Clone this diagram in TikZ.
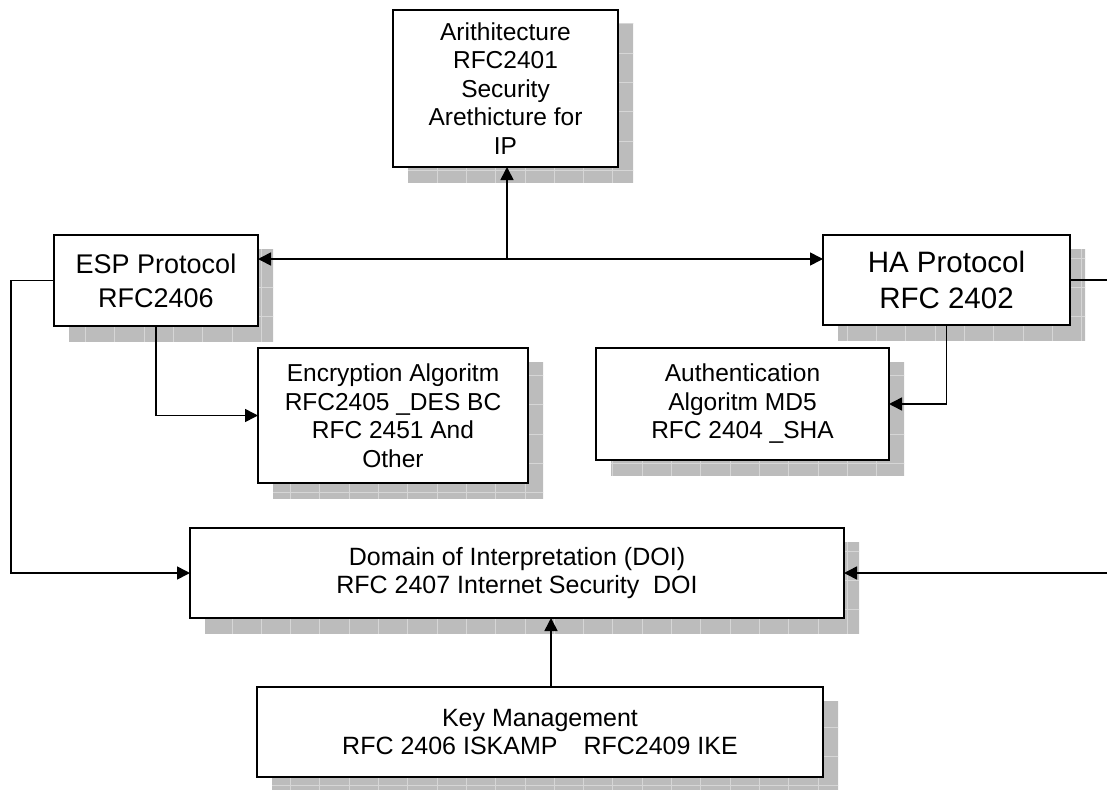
\documentclass[tikz,border=0pt]{standalone}
\usepackage{fontspec}
\setmainfont{Liberation Sans}
\usetikzlibrary{arrows.meta,calc}
\pgfdeclarelayer{bg}
\pgfsetlayers{bg,main}
\definecolor{shadowgray}{RGB}{188,188,188}
\definecolor{gridgray}{RGB}{214,214,214}
\newcommand{\gridshadow}[1]{%
  \begin{scope}
    \clip ($(#1.north west)+(15,14)$) rectangle ($(#1.south east)+(15,15)$);
    \fill[shadowgray] (-20,-20) rectangle (1200,900);
    \draw[draw=gridgray, line width=0.8pt, shift={(26.8,23.7)}, step=29.3pt] (-60,-60) grid (1200,900);
  \end{scope}}
\begin{document}
\begin{tikzpicture}[x=1pt,y=-1pt,
  box/.style={draw=black, fill=white, line width=1.6pt, inner sep=0pt, outer sep=0pt,
    align=center, font=\fontsize{24.5}{28.5}\selectfont},
  conn/.style={line width=1.6pt},
  arr/.style={conn, -{Triangle[length=13pt,width=13pt]}},
  arrtwo/.style={conn, {Triangle[length=13pt,width=13pt]}-{Triangle[length=13pt,width=13pt]}}
]
\useasboundingbox (0,0) rectangle (1107,789);
\clip (0,0) rectangle (1107,789);

\node[box, minimum width=225pt, minimum height=157pt] (top) at (505.5,88.5)
  {Arithitecture\\RFC2401\\Security\\Arethicture for\\IP};
\node[box, minimum width=204pt, minimum height=91pt, font=\fontsize{27}{34}\selectfont] (esp) at (156,280.5)
  {ESP Protocol\\RFC2406};
\node[box, minimum width=247pt, minimum height=90pt, font=\fontsize{29.5}{36.7}\selectfont] (ha) at (946.5,280)
  {HA Protocol\\RFC 2402};
\node[box, minimum width=270pt, minimum height=135pt] (enc) at (393,415.5)
  {Encryption Algoritm\\RFC2405 \_DES BC\\RFC 2451 And\\Other};
\node[box, minimum width=293pt, minimum height=112pt] (auth) at (742.5,404)
  {Authentication\\Algoritm MD5\\RFC 2404 \_SHA};
\node[box, minimum width=654pt, minimum height=90pt, font=\fontsize{25}{28}\selectfont] (doi) at (517,573)
  {Domain of Interpretation (DOI)\\RFC 2407 Internet Security\ \ DOI};
\node[box, minimum width=566pt, minimum height=90pt, font=\fontsize{25}{28}\selectfont] (km) at (540,732)
  {Key Management\\RFC 2406 ISKAMP\hspace{26pt}RFC2409 IKE};

\begin{pgfonlayer}{bg}
  \gridshadow{top}
  \gridshadow{esp}
  \gridshadow{ha}
  \gridshadow{enc}
  \gridshadow{auth}
  \gridshadow{doi}
  \gridshadow{km}
\end{pgfonlayer}

\coordinate (jn) at (507,259);
\coordinate (lturn) at (11,573);
\coordinate (rturn) at (1125,280);

\draw[arrtwo] (jn -| esp.east) -- (jn -| ha.west);
\draw[arr] (jn) -- (jn |- top.south);
\draw[arr] (esp.west) -| (lturn) -- (doi.west);
\draw[arr] (esp.south) |- (enc.west);
\draw[arr] (ha.south) |- (auth.east);
\draw[arr] (ha.east) -- (rturn) |- (doi.east);
\draw[arr] ([xshift=11pt]km.north) -- ([xshift=11pt]km.north |- doi.south);
\end{tikzpicture}
\end{document}
